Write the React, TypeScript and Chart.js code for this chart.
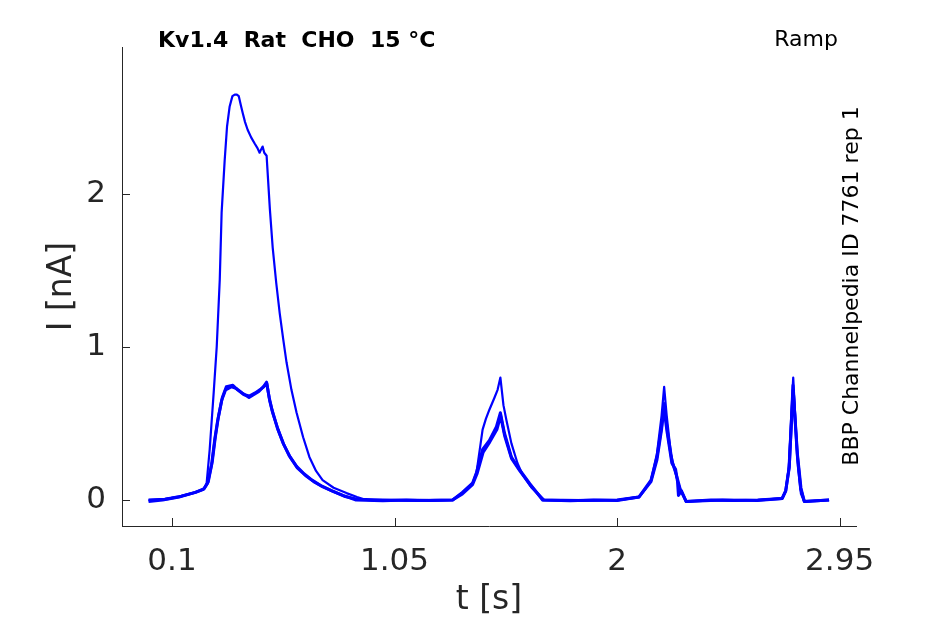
import React, { useEffect, useRef } from "react";
import { Chart, registerables } from "chart.js";

Chart.register(...registerables);

// ramp traces, time in s, current in nA
const tBig = [0.0, 0.06, 0.13, 0.2, 0.235, 0.248, 0.261, 0.278, 0.291, 0.304, 0.312, 0.325, 0.335, 0.346, 0.358, 0.368, 0.377, 0.385, 0.394, 0.402, 0.412, 0.423, 0.438, 0.453, 0.465, 0.474, 0.48, 0.487, 0.494, 0.504, 0.508, 0.518, 0.53, 0.545, 0.56, 0.575, 0.589, 0.61, 0.632, 0.66, 0.687, 0.715, 0.743, 0.79, 0.845, 0.89, 0.93, 1.0, 1.1, 1.2, 1.298, 1.34, 1.383, 1.4, 1.413, 1.426, 1.44, 1.455, 1.477, 1.49, 1.502, 1.515, 1.528, 1.549, 1.575, 1.595, 1.613, 1.635, 1.656, 1.69, 1.8, 1.9, 2.0, 2.094, 2.12, 2.145, 2.17, 2.19, 2.201, 2.212, 2.23, 2.252, 2.27, 2.295, 2.4, 2.5, 2.6, 2.705, 2.72, 2.732, 2.742, 2.752, 2.762, 2.772, 2.785, 2.799, 2.85, 2.905];
const iBig = [0.0, 0.005, 0.02, 0.05, 0.07, 0.11, 0.33, 0.7, 1.0, 1.44, 1.88, 2.22, 2.44, 2.57, 2.64, 2.65, 2.65, 2.64, 2.58, 2.53, 2.47, 2.42, 2.37, 2.33, 2.3, 2.27, 2.29, 2.31, 2.27, 2.25, 2.15, 1.9, 1.65, 1.42, 1.22, 1.05, 0.9, 0.72, 0.57, 0.41, 0.28, 0.19, 0.13, 0.08, 0.045, 0.02, 0.0, -0.005, 0.0, -0.003, 0.0, 0.05, 0.11, 0.18, 0.32, 0.46, 0.53, 0.59, 0.67, 0.72, 0.8, 0.62, 0.52, 0.37, 0.24, 0.17, 0.13, 0.08, 0.05, 0.0, -0.005, 0.0, -0.003, 0.02, 0.07, 0.13, 0.3, 0.55, 0.74, 0.55, 0.3, 0.16, 0.07, -0.01, 0.0, -0.003, 0.0, 0.01, 0.06, 0.2, 0.5, 0.8, 0.5, 0.22, 0.04, -0.01, -0.005, 0.0];

const tSmallA = [0.0, 0.06, 0.13, 0.2, 0.235, 0.252, 0.269, 0.282, 0.295, 0.312, 0.329, 0.355, 0.373, 0.4, 0.429, 0.45, 0.471, 0.49, 0.504, 0.515, 0.527, 0.55, 0.575, 0.6, 0.632, 0.665, 0.698, 0.74, 0.783, 0.83, 0.886, 1.0, 1.1, 1.2, 1.298, 1.34, 1.383, 1.4, 1.426, 1.455, 1.485, 1.502, 1.519, 1.549, 1.583, 1.626, 1.682, 1.8, 1.9, 2.0, 2.094, 2.145, 2.17, 2.19, 2.201, 2.215, 2.235, 2.252, 2.27, 2.295, 2.4, 2.5, 2.6, 2.705, 2.72, 2.735, 2.752, 2.77, 2.785, 2.799, 2.905];
const iSmallA = [-0.01, 0.0, 0.02, 0.05, 0.07, 0.11, 0.23, 0.39, 0.52, 0.65, 0.72, 0.74, 0.73, 0.7, 0.67, 0.69, 0.71, 0.74, 0.77, 0.67, 0.59, 0.47, 0.37, 0.29, 0.22, 0.17, 0.13, 0.09, 0.06, 0.03, 0.0, -0.005, 0.0, -0.004, 0.0, 0.05, 0.11, 0.18, 0.33, 0.39, 0.48, 0.57, 0.44, 0.28, 0.2, 0.11, 0.0, -0.005, 0.0, -0.004, 0.02, 0.13, 0.28, 0.48, 0.63, 0.45, 0.25, 0.17, 0.07, -0.01, 0.0, -0.004, 0.0, 0.01, 0.06, 0.22, 0.72, 0.3, 0.08, -0.01, 0.0];

const tSmallB = [0.0, 0.07, 0.14, 0.2, 0.238, 0.255, 0.272, 0.285, 0.298, 0.315, 0.332, 0.36, 0.38, 0.405, 0.43, 0.455, 0.475, 0.492, 0.505, 0.517, 0.53, 0.553, 0.578, 0.605, 0.635, 0.67, 0.705, 0.745, 0.79, 0.835, 0.89, 1.0, 1.15, 1.298, 1.34, 1.383, 1.402, 1.428, 1.457, 1.487, 1.503, 1.52, 1.55, 1.585, 1.628, 1.685, 1.85, 2.0, 2.094, 2.145, 2.17, 2.19, 2.2, 2.214, 2.234, 2.25, 2.258, 2.262, 2.275, 2.295, 2.45, 2.6, 2.705, 2.72, 2.735, 2.751, 2.769, 2.784, 2.8, 2.905];
const iSmallB = [0.0, 0.005, 0.025, 0.05, 0.075, 0.12, 0.25, 0.41, 0.54, 0.67, 0.74, 0.75, 0.72, 0.69, 0.68, 0.7, 0.72, 0.74, 0.76, 0.65, 0.57, 0.46, 0.36, 0.28, 0.21, 0.16, 0.12, 0.085, 0.055, 0.025, 0.005, 0.0, -0.004, 0.0, 0.04, 0.1, 0.17, 0.31, 0.38, 0.46, 0.55, 0.42, 0.27, 0.19, 0.1, 0.0, -0.004, 0.0, 0.02, 0.12, 0.26, 0.46, 0.6, 0.44, 0.24, 0.2, 0.12, 0.03, 0.06, -0.01, 0.0, -0.004, 0.01, 0.06, 0.21, 0.75, 0.3, 0.07, -0.01, 0.0];

const xTicks = [0.1, 1.05, 2, 2.95];
const yTicks = [0, 1, 2];

const titleText = "Kv1.4  Rat  CHO  15 °C";
const protocolText = "Ramp";
const sourceText = "BBP Channelpedia ID 7761 rep 1";

const FONT = "'DejaVu Sans', sans-serif";
const AXIS = "#262626";

const toPoints = (ts, vs) => ts.map((t, k) => ({ x: t, y: vs[k] }));

const decorations = {
    id: "decorations",
    afterDraw(chart) {
        const { ctx, chartArea } = chart;
        const xs = chart.scales.x;
        const ys = chart.scales.y;
        ctx.save();
        // inward tick marks
        ctx.strokeStyle = AXIS;
        ctx.lineWidth = 1;
        ctx.beginPath();
        xTicks.forEach(v => {
            const px = Math.round(xs.getPixelForValue(v)) + 0.5;
            ctx.moveTo(px, chartArea.bottom);
            ctx.lineTo(px, chartArea.bottom - 8);
        });
        yTicks.forEach(v => {
            const py = Math.round(ys.getPixelForValue(v)) + 0.5;
            ctx.moveTo(chartArea.left, py);
            ctx.lineTo(chartArea.left + 8, py);
        });
        ctx.stroke();

        ctx.fillStyle = "#000000";
        ctx.textBaseline = "alphabetic";
        ctx.font = "bold 22px " + FONT;
        ctx.textAlign = "left";
        ctx.fillText(titleText, 158, 47);
        ctx.font = "22px " + FONT;
        ctx.textAlign = "right";
        ctx.fillText(protocolText, 838, 46);

        ctx.translate(858, 286);
        ctx.rotate(-Math.PI / 2);
        ctx.textAlign = "center";
        ctx.font = "22px " + FONT;
        ctx.fillText(sourceText, 0, 0);
        ctx.restore();
    }
};

export default function App() {
    const canvasRef = useRef<HTMLCanvasElement>(null);

    useEffect(() => {
        if (!canvasRef.current) return;
        const line = (pts, width) => ({
            data: pts,
            borderColor: "#0000ff",
            borderWidth: width,
            borderJoinStyle: "round",
            pointRadius: 0,
            tension: 0,
            fill: false
        });
        const chart = new Chart(canvasRef.current, {
            type: "line",
            data: {
                datasets: [
                    line(toPoints(tSmallB, iSmallB), 3),
                    line(toPoints(tSmallA, iSmallA), 3),
                    line(toPoints(tBig, iBig), 2.2)
                ]
            },
            options: {
                animation: false,
                responsive: true,
                maintainAspectRatio: false,
                layout: { padding: { top: 47, right: 89, left: 0, bottom: 0 } },
                plugins: { legend: { display: false }, tooltip: { enabled: false } },
                scales: {
                    x: {
                        type: "linear",
                        min: -0.1133,
                        max: 3.02,
                        afterBuildTicks: s => { s.ticks = xTicks.map(v => ({ value: v })); },
                        afterFit: s => { s.height = 98; },
                        grid: { drawOnChartArea: false, drawTicks: false },
                        border: { color: AXIS, width: 1 },
                        ticks: {
                            color: AXIS,
                            font: { family: FONT, size: 31 },
                            padding: 17,
                            maxRotation: 0,
                            autoSkip: false,
                            callback: v => String(v)
                        },
                        title: {
                            display: true,
                            text: "t [s]",
                            color: AXIS,
                            font: { family: FONT, size: 33 },
                            padding: { top: 0, bottom: 4 }
                        }
                    },
                    y: {
                        type: "linear",
                        min: -0.17,
                        max: 2.961,
                        afterBuildTicks: s => { s.ticks = yTicks.map(v => ({ value: v })); },
                        afterFit: s => { s.width = 122; },
                        grid: { drawOnChartArea: false, drawTicks: false },
                        border: { color: AXIS, width: 1 },
                        ticks: {
                            color: AXIS,
                            font: { family: FONT, size: 31 },
                            padding: 16,
                            autoSkip: false,
                            callback: v => String(v)
                        },
                        title: {
                            display: true,
                            text: "I [nA]",
                            color: AXIS,
                            font: { family: FONT, size: 33 },
                            padding: { top: 43, bottom: 0 }
                        }
                    }
                }
            },
            plugins: [decorations]
        });
        return () => chart.destroy();
    }, []);

    return (
        <div style={{ position: "absolute", left: 0, top: 0, width: 945, height: 624, background: "#ffffff" }}>
            <canvas ref={canvasRef}></canvas>
        </div>
    );
}
